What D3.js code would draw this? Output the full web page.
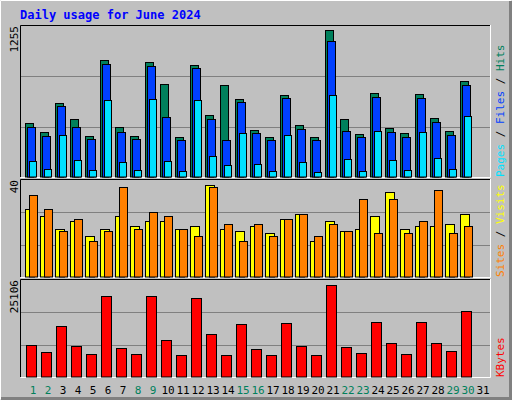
<!DOCTYPE html><html><head><script src="https://cdn.jsdelivr.net/npm/d3@7"></script>
<style>body{margin:0;background:#fff}svg text{font-family:"DejaVu Sans Mono",monospace}</style></head><body><script>
const days=d3.range(1,32);
const weekend=[1,2,8,9,15,16,22,23,29,30];
const hits=[451,377,618,485,343,975,418,343,958,776,335,934,518,767,651,393,335,684,435,335,1224,485,360,701,410,368,693,493,385,801,0];
const files=[418,343,593,418,319,942,377,319,925,501,310,909,485,310,626,368,310,659,402,310,1133,385,335,668,377,335,659,460,352,767,0];
const pages=[136,69,352,144,61,643,127,61,651,136,53,643,177,102,368,111,53,352,127,44,684,152,53,385,144,61,377,161,69,510,0];
const visits=[28,25,20,23,17,20,25,21,23,23,20,21,38,20,19,21,18,24,26,15,23,19,20,25,35,20,21,21,22,26,0];
const sites=[34,28,19,24,15,19,37,20,27,25,20,17,37,22,15,22,17,24,26,17,22,19,32,18,32,18,23,36,18,21,0];
const kbytes=[8194,6364,13163,7933,5841,21009,7410,5841,21009,9502,5579,20486,11071,5579,13686,7148,5579,13948,7933,5579,23885,7671,6102,14209,8717,5841,14209,8717,6625,17086,0];
const maxHits=1255,maxVisits=40,maxK=25106;

const svg=d3.select("body").append("svg").attr("width",512).attr("height",400);
svg.append("rect").attr("width",512).attr("height",400).attr("fill","#c0c0c0");
svg.append("path").attr("d","M0.5,399.5V0.5H511.5").attr("stroke","#fff").attr("fill","none");
svg.append("path").attr("d","M1,398.5H510.5V1").attr("stroke","#808080").attr("fill","none").attr("stroke-width",3);
svg.append("text").attr("x",20).attr("y",19).text("Daily usage for June 2024").attr("fill","#0000ff").attr("font-weight","bold").attr("font-size",12);

const x=d3.scaleLinear().domain([1,32]).range([25,490]);
function panel(y0,y1){
  svg.append("path").attr("d",`M20.5,${y1}V${y0+0.5}H491`).attr("stroke","#000").attr("fill","none");
  svg.append("path").attr("d",`M20.5,${y1+0.5}H490.5V${y0}`).attr("stroke","#fff").attr("fill","none");
  const y=d3.scaleLinear().domain([0,1]).range([y1,y0+1]);
  [1/3,2/3].forEach(f=>svg.append("line").attr("x1",21).attr("x2",490).attr("y1",Math.round(y(f))+0.5).attr("y2",Math.round(y(f))+0.5).attr("stroke","#808080"));
}
function bars(data,max,y0,y1,off,w,color){
  const y=d3.scaleLinear().domain([0,max]).range([y1,y0+1]);
  svg.append("g").selectAll("rect").data(data.map((v,i)=>({v,d:i+1})).filter(o=>o.v>0)).join("rect")
   .attr("x",o=>x(o.d)+off+0.5).attr("width",w).attr("y",o=>Math.round(y(o.v))+0.5).attr("height",o=>y1-Math.round(y(o.v))-0.5)
   .attr("fill",color).attr("stroke","#000");
}
panel(25,177);
bars(hits,maxHits,25,177,0,8,"#00805c");
bars(files,maxHits,25,177,2,8,"#0040ff");
bars(pages,maxHits,25,177,4,7,"#00e0ff");
panel(179,277);
bars(visits,maxVisits,179,277,0,9,"#ffff00");
bars(sites,maxVisits,179,277,4,8,"#ff8000");
panel(279,377);
bars(kbytes,maxK,279,377,1,10,"#ff0000");

function vlabel(xp,yp,parts,anchor){
  const t=svg.append("text").attr("transform",`translate(${xp},${yp}) rotate(-90)`).attr("font-size",11).attr("text-anchor",anchor||"start");
  parts.forEach(p=>t.append("tspan").attr("fill",p[1]).text(p[0]));
}
vlabel(18,26,[["1255","#000"]],"end");
vlabel(18,180,[["40","#000"]],"end");
vlabel(18,280,[["25106","#000"]],"end");
vlabel(504,177,[["Pages","#00e0ff"],[" / ","#000"],["Files","#0040ff"],[" / ","#000"],["Hits","#00805c"]]);
vlabel(504,277,[["Sites","#ff8000"],[" / ","#000"],["Visits","#ffff00"]]);
vlabel(504,377,[["KBytes","#ff0000"]]);

svg.append("g").selectAll("text").data(days).join("text").attr("x",d=>x(d)+8).attr("y",394).attr("text-anchor","middle").attr("font-size",11)
 .attr("fill",d=>weekend.includes(d)?"#00805c":"#000").text(d=>d);
</script></body></html>
